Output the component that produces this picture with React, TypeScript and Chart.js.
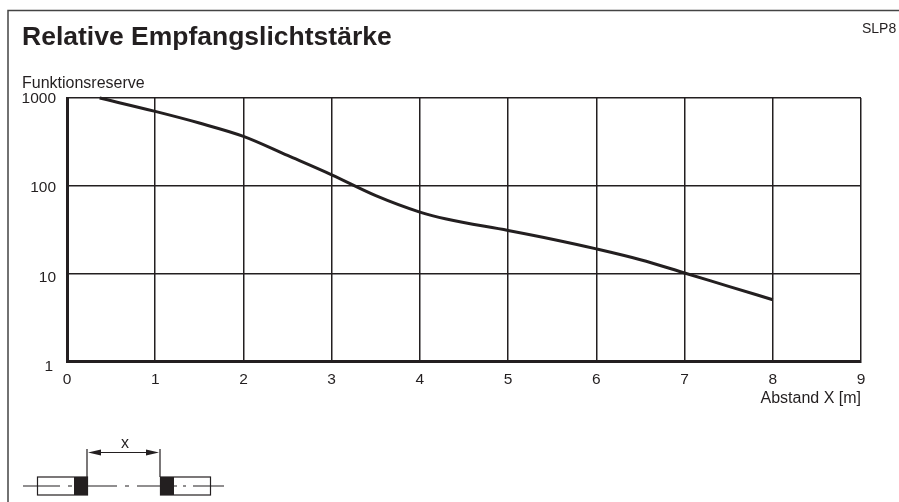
import React, { useEffect, useRef } from "react";
import { Chart, registerables } from "chart.js";

Chart.register(...registerables);

const distance = [0.37, 1, 1.5, 2, 2.5, 3, 3.5, 4, 4.3, 5, 5.5, 6, 6.5, 7, 7.5, 8];
const reserve = [1000, 703, 518, 365, 221, 133, 77, 50, 41.6, 30.8, 24.5, 19, 14.3, 10.1, 7.1, 5];
const yTicks = [1, 10, 100, 1000];
const titleText = "Relative Empfangslichtstärke";
const yLabel = "Funktionsreserve";
const xLabel = "Abstand X [m]";
const cornerText = "SLP8";
const diagramLabel = "x";

const INK = "#231f20";
const FONT = "'Liberation Sans', Arial, sans-serif";

// The reference prints its y labels slightly below their grid lines.
const yLabelShift: Record<string, [number, number]> = {
  "1": [-3, 6],
  "10": [0, 4],
  "100": [0, 2],
  "1000": [0, 1],
};

const decorPlugin = {
  id: "decor",
  beforeDraw(chart: any) {
    chart.scales.y.getLabelItems().forEach((item: any) => {
      const shift = yLabelShift[String(item.label)];
      if (shift && !item.shifted) {
        item.options.translation[0] += shift[0];
        item.options.translation[1] += shift[1];
        item.shifted = true;
      }
    });
  },
  afterDraw(chart: any) {
    const c = chart.ctx;
    c.save();
    c.strokeStyle = "#444";
    c.fillStyle = INK;
    c.lineWidth = 1.5;
    c.beginPath();
    c.moveTo(8, 502);
    c.lineTo(8, 10.5);
    c.lineTo(899, 10.5);
    c.stroke();

    c.font = `14px ${FONT}`;
    c.textAlign = "left";
    c.textBaseline = "middle";
    c.fillText(cornerText, 862, 29);
    c.font = `16px ${FONT}`;
    c.textAlign = "center";
    c.fillText(diagramLabel, 125, 444);

    c.lineWidth = 1.2;
    c.strokeStyle = INK;
    c.strokeRect(37.5, 477, 50, 18);
    c.strokeRect(160.5, 477, 50, 18);
    c.fillRect(74, 477, 14, 18);
    c.fillRect(160, 477, 14, 18);
    const segs = [[23, 60], [68, 72], [88, 117], [125, 129], [137, 160], [174, 177], [183, 186], [193, 224]];
    c.beginPath();
    segs.forEach(([a, b]) => {
      c.moveTo(a, 486);
      c.lineTo(b, 486);
    });
    c.moveTo(87, 449);
    c.lineTo(87, 477);
    c.moveTo(160, 449);
    c.lineTo(160, 477);
    c.moveTo(90, 452.5);
    c.lineTo(157, 452.5);
    c.stroke();
    c.beginPath();
    c.moveTo(88, 452.5);
    c.lineTo(101, 449.5);
    c.lineTo(101, 455.5);
    c.closePath();
    c.moveTo(159, 452.5);
    c.lineTo(146, 449.5);
    c.lineTo(146, 455.5);
    c.closePath();
    c.fill();
    c.restore();
  },
};

export default function App() {
  const ref = useRef<HTMLCanvasElement>(null);
  useEffect(() => {
    document.body.style.margin = "0";
    const chart = new Chart(ref.current!, {
      type: "line",
      data: {
        datasets: [
          {
            data: distance.map((x, i) => ({ x, y: reserve[i] })),
            borderColor: INK,
            borderWidth: 3,
            pointRadius: 0,
            cubicInterpolationMode: "monotone",
            clip: false,
          } as any,
        ],
      },
      options: {
        animation: false,
        responsive: false,
        layout: { padding: { left: 22, right: 38, top: 22, bottom: 94 } },
        plugins: {
          legend: { display: false },
          tooltip: { enabled: false },
          title: {
            display: true,
            text: titleText,
            align: "start",
            color: INK,
            font: { family: FONT, size: 26.5, weight: "bold" },
            padding: { top: 0, bottom: 20 },
          },
          subtitle: {
            display: true,
            text: yLabel,
            align: "start",
            color: INK,
            font: { family: FONT, size: 16, weight: "normal" },
            padding: { top: 0, bottom: 5 },
          },
        },
        scales: {
          x: {
            type: "linear",
            min: 0,
            max: 9,
            ticks: {
              stepSize: 1,
              color: INK,
              padding: 9,
              maxRotation: 0,
              font: { family: FONT, size: 15.5 },
            },
            grid: { color: INK, lineWidth: 1.5, drawTicks: false },
            border: { color: INK, width: 3 },
            title: {
              display: true,
              text: xLabel,
              align: "end",
              color: INK,
              padding: 0,
              font: { family: FONT, size: 16 },
            },
            afterFit: (s: any) => {
              s.height = 47;
            },
          },
          y: {
            type: "logarithmic",
            min: 1,
            max: 1000,
            afterBuildTicks: (s: any) => {
              s.ticks = yTicks.map((value) => ({ value }));
            },
            ticks: {
              color: INK,
              padding: 11,
              font: { family: FONT, size: 15.5 },
              callback: (v: any) => String(v),
            },
            grid: { color: INK, lineWidth: 1.5, drawTicks: false },
            border: { color: INK, width: 3 },
            afterFit: (s: any) => {
              s.width = 45;
            },
          },
        },
      } as any,
      plugins: [decorPlugin],
    });
    return () => chart.destroy();
  }, []);
  return (
    <div style={{ position: "absolute", left: 0, top: 0, width: 899, height: 502, background: "#fff", overflow: "hidden" }}>
      <canvas ref={ref} width={899} height={502} style={{ display: "block" }} />
    </div>
  );
}
